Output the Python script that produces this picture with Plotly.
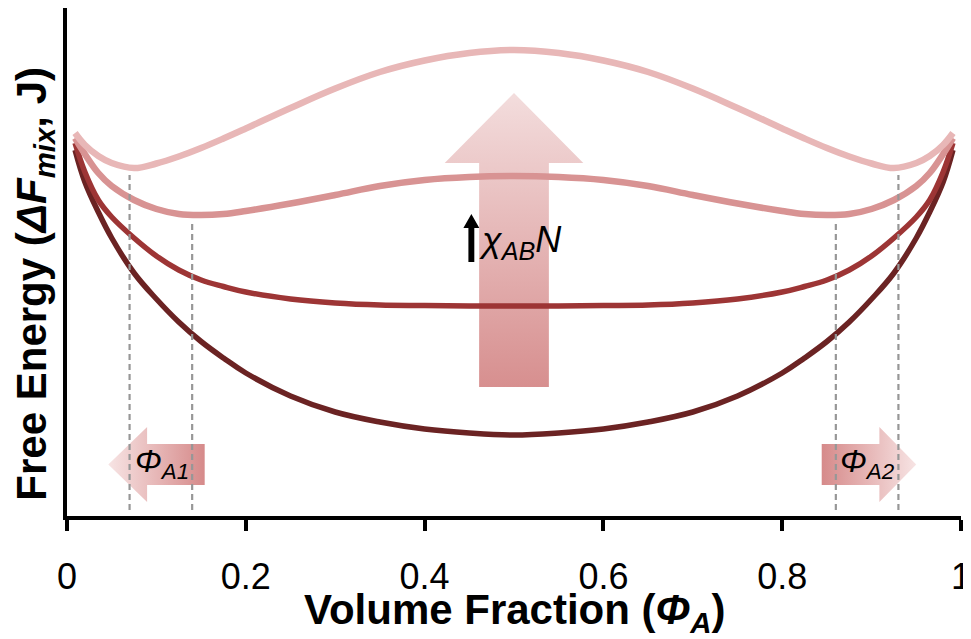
import numpy as np
import plotly.graph_objects as go

# ---------------- data ----------------
phi_a = [0.009, 0.02, 0.035, 0.05, 0.075, 0.10, 0.125, 0.15, 0.175, 0.20,
         0.25, 0.30, 0.35, 0.40, 0.45, 0.50, 0.55, 0.60, 0.65, 0.70, 0.75,
         0.80, 0.825, 0.85, 0.875, 0.90, 0.925, 0.95, 0.965, 0.98, 0.991]

# free energy of mixing (arbitrary units), lowest to highest chi_AB*N
f_chi1 = [3.68, 3.36, 3.06, 2.80, 2.45, 2.19, 1.96, 1.765, 1.60, 1.45,
          1.22, 1.06, 0.96, 0.89, 0.85, 0.83, 0.85, 0.89, 0.96, 1.06, 1.22,
          1.45, 1.60, 1.765, 1.96, 2.19, 2.45, 2.80, 3.06, 3.36, 3.68]
f_chi2 = [3.75, 3.46, 3.18, 3.01, 2.80, 2.62, 2.48, 2.38, 2.315, 2.26,
          2.19, 2.15, 2.13, 2.125, 2.12, 2.12, 2.12, 2.125, 2.13, 2.15, 2.19,
          2.26, 2.315, 2.38, 2.48, 2.62, 2.80, 3.01, 3.18, 3.46, 3.75]
f_chi3 = [3.80, 3.64, 3.45, 3.32, 3.18, 3.09, 3.04, 3.03, 3.04, 3.07,
          3.145, 3.23, 3.32, 3.38, 3.41, 3.42, 3.41, 3.38, 3.32, 3.23, 3.145,
          3.07, 3.04, 3.03, 3.04, 3.09, 3.18, 3.32, 3.45, 3.64, 3.80]
f_chi4 = [3.85, 3.73, 3.62, 3.55, 3.50, 3.545, 3.615, 3.70, 3.795, 3.895,
          4.10, 4.295, 4.46, 4.575, 4.65, 4.68, 4.65, 4.575, 4.46, 4.295, 4.10,
          3.895, 3.795, 3.70, 3.615, 3.545, 3.50, 3.55, 3.62, 3.73, 3.85]

# binodal compositions marked with dashed lines, and the curve they touch
binodal_phi = [0.07, 0.14, 0.86, 0.93]
binodal_curve = ["f_chi4", "f_chi3", "f_chi3", "f_chi4"]

x_ticks = [0, 0.2, 0.4, 0.6, 0.8, 1]
x_tick_labels = ["0", "0.2", "0.4", "0.6", "0.8", "1"]

# ---------------- styles ----------------
series = {
    "f_chi1": (f_chi1, "#6b2323", 5.5),
    "f_chi2": (f_chi2, "#9d3535", 5.5),
    "f_chi3": (f_chi3, "#d89393", 6.5),
    "f_chi4": (f_chi4, "#e8b7b7", 6.5),
}
FONT = "Liberation Sans, Arial, sans-serif"
Y_RANGE = [0.02, 5.10]

fig = go.Figure()


def poly(xs, ys, **kw):
    fig.add_trace(go.Scatter(x=xs + [xs[0]], y=ys + [ys[0]], mode="lines",
                             fill="toself", line=dict(width=0),
                             hoverinfo="skip", showlegend=False, **kw))


# big gradient arrow (increasing chi_AB N)
poly([0.461, 0.539, 0.539, 0.5775, 0.5, 0.4225, 0.461],
     [1.31, 1.31, 3.55, 3.55, 4.25, 3.55, 3.55],
     fillgradient=dict(type="vertical",
                       colorscale=[[0, "#d78f8f"], [1, "#f3dddd"]]))

# small arrows phi_A1 (left) and phi_A2 (right)
poly([0.154, 0.154, 0.0896, 0.0896, 0.0462, 0.0896, 0.0896],
     [0.33, 0.74, 0.74, 0.91, 0.535, 0.16, 0.33],
     fillgradient=dict(type="horizontal",
                       colorscale=[[0, "#f7e4e4"], [1, "#d68a8a"]]))
poly([0.8442, 0.8442, 0.9087, 0.9087, 0.9499, 0.9087, 0.9087],
     [0.33, 0.74, 0.74, 0.91, 0.535, 0.16, 0.33],
     fillgradient=dict(type="horizontal",
                       colorscale=[[0, "#d68a8a"], [1, "#f7e4e4"]]))

# black small arrow next to chi label
poly([0.4490, 0.4556, 0.4556, 0.4612, 0.4523, 0.4434, 0.4490],
     [2.56, 2.56, 2.90, 2.90, 3.04, 2.90, 2.90],
     fillcolor="#000000")

# curves
for name, (vals, col, w) in series.items():
    fig.add_trace(go.Scatter(x=phi_a, y=vals, mode="lines",
                             line=dict(color=col, width=w, shape="spline",
                                       smoothing=1.1),
                             hoverinfo="skip", showlegend=False))

# dashed binodal lines
for xb, cname in zip(binodal_phi, binodal_curve):
    ytop = float(np.interp(xb, phi_a, series[cname][0])) - 0.08
    fig.add_trace(go.Scatter(x=[xb, xb], y=[0.08, ytop], mode="lines",
                             line=dict(color="#979797", width=2.2,
                                       dash="6px,4px"),
                             hoverinfo="skip", showlegend=False))

annotations = [
    dict(x=0.5, y=-0.189, xref="paper", yref="paper",
         text="<b>Volume Fraction (<i>Φ</i><sub><i>A</i></sub>)</b>",
         showarrow=False, font=dict(family=FONT, size=42, color="#000"),
         xanchor="center", yanchor="middle"),
    dict(x=-0.036, y=0.457, xref="paper", yref="paper", textangle=-90,
         text="<b>Free Energy (<i>ΔF</i><sub><i>mix</i></sub>, J)</b>",
         showarrow=False, font=dict(family=FONT, size=42, color="#000"),
         xanchor="center", yanchor="middle"),
    dict(x=0.459, y=2.76, xref="x", yref="y",
         text="<i>χ</i><sub><i>AB</i></sub><i>N</i>",
         showarrow=False, font=dict(family=FONT, size=36, color="#000"),
         xanchor="left", yanchor="middle"),
    dict(x=0.074, y=0.55, xref="x", yref="y",
         text="<i>Φ</i><sub><i>A1</i></sub>",
         showarrow=False, font=dict(family=FONT, size=32, color="#000"),
         xanchor="left", yanchor="middle"),
    dict(x=0.862, y=0.55, xref="x", yref="y",
         text="<i>Φ</i><sub><i>A2</i></sub>",
         showarrow=False, font=dict(family=FONT, size=32, color="#000"),
         xanchor="left", yanchor="middle"),
]

# the page body adds an 8px offset, so the figure is sized to fit the window
fig.update_layout(
    width=963, height=631,
    margin=dict(l=59, r=6, t=0, b=123),
    paper_bgcolor="white", plot_bgcolor="white",
    showlegend=False,
    annotations=annotations,
    xaxis=dict(range=[0, 1], tickvals=x_ticks, ticktext=x_tick_labels,
               showgrid=False, zeroline=False, showline=True,
               linecolor="#000", linewidth=4, ticks="outside", ticklen=11,
               tickwidth=4, tickcolor="#000", ticklabelstandoff=15,
               ticklabeloverflow="allow",
               tickfont=dict(family=FONT, size=36, color="#000"),
               fixedrange=True),
    yaxis=dict(range=Y_RANGE, showgrid=False, zeroline=False, showline=True,
               linecolor="#000", linewidth=4, showticklabels=False,
               ticks="", fixedrange=True),
)

fig.write_html("out.html")
